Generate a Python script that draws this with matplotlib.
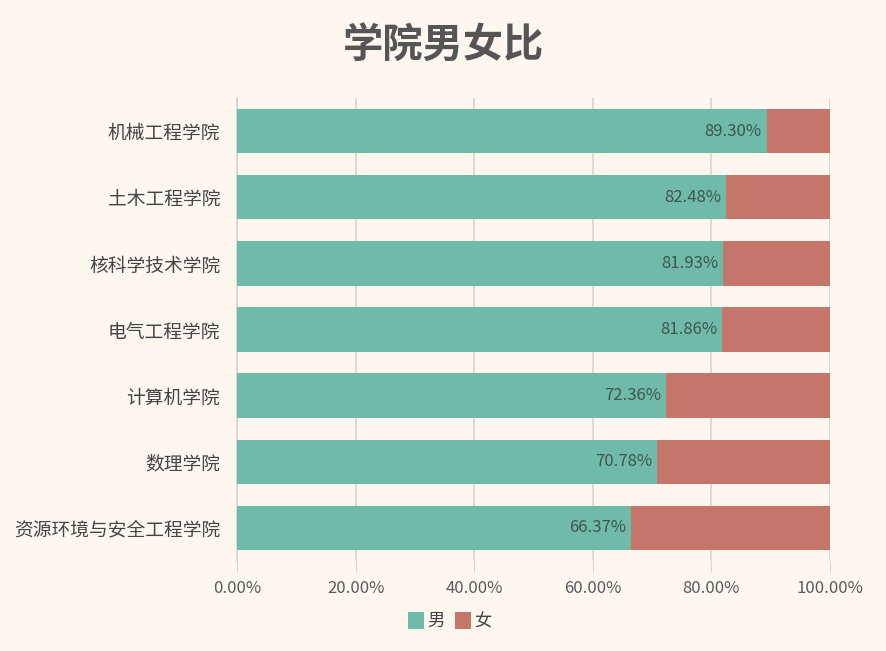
import matplotlib
matplotlib.use("Agg")
import matplotlib.pyplot as plt
from matplotlib.ticker import FuncFormatter
from matplotlib.patches import Patch

plt.rcParams['font.family'] = ['Noto Sans CJK SC', 'DejaVu Sans']

colleges = ['机械工程学院', '土木工程学院', '核科学技术学院', '电气工程学院',
            '计算机学院', '数理学院', '资源环境与安全工程学院']
male = [89.30, 82.48, 81.93, 81.86, 72.36, 70.78, 66.37]
female = [100 - m for m in male]
xticks = [0, 20, 40, 60, 80, 100]

bg = '#fdf7f0'
teal = '#6fbaa8'
red = '#c4766a'

fig = plt.figure(figsize=(8.87, 6.51), dpi=100, facecolor=bg)
ax = fig.add_axes([237/887, 1-561/651, (830-237)/887, (561-98)/651], facecolor=bg)

ypos = list(range(len(colleges)))[::-1]
ax.barh(ypos, male, height=0.67, color=teal, zorder=3)
ax.barh(ypos, female, left=male, height=0.67, color=red, zorder=3)

for y, m in zip(ypos, male):
    ax.text(m - 0.8, y, f'{m:.2f}%', ha='right', va='center', fontsize=12,
            color='#3e5650', zorder=4)

ax.set_xlim(0, 100)
ax.set_ylim(-0.5, len(colleges) - 0.5)
ax.set_xticks(xticks)
ax.xaxis.set_major_formatter(FuncFormatter(lambda v, p: f'{v:.2f}%'))
ax.set_yticks(ypos)
ax.set_yticklabels(colleges)
ax.tick_params(axis='x', length=8, color='#d9d4cf', labelsize=12,
               labelcolor='#5a5a5a', pad=6)
ax.tick_params(axis='y', length=0, labelsize=13.5, labelcolor='#444444', pad=12)
ax.grid(axis='x', color='#d9d4cf', linewidth=1.2, zorder=0)
for s in ['top', 'right', 'bottom']:
    ax.spines[s].set_visible(False)
ax.spines['left'].set_color('#d9d4cf')
ax.spines['left'].set_linewidth(1.2)

fig.text(443/887, 1-45/651, '学院男女比', ha='center', va='center',
         fontsize=29, fontweight='bold', color='#555555')

handles = [Patch(facecolor=teal, label='男'), Patch(facecolor=red, label='女')]
fig.legend(handles=handles, loc='center', bbox_to_anchor=(450/887, 1-621/651),
           ncol=2, frameon=False, fontsize=12.5, handlelength=0.9, handleheight=1.1,
           handletextpad=0.2, columnspacing=0.6, labelcolor='#444444')

fig.savefig('out.png', dpi=100, facecolor=bg)
